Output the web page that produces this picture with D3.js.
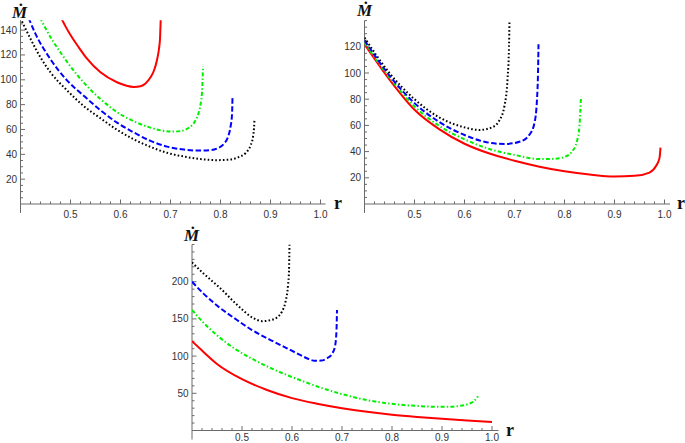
<!DOCTYPE html>
<html><head><meta charset="utf-8">
<script src="https://cdn.jsdelivr.net/npm/d3@7"></script>
<style>
html,body{margin:0;padding:0;background:#fff;}
svg{display:block;}
</style></head>
<body>
<svg id="chart" width="685" height="443"></svg>
<script>
// ---------- data: [r, Mdot] pairs ----------
const xTickLabels = [0.5, 0.6, 0.7, 0.8, 0.9, 1.0];

// panel A (top-left)
const aRed   = [[0.481,150],[0.49,143],[0.5,136],[0.515,127],[0.533,117],[0.56,106],[0.593,98],[0.627,94.2],[0.64,94.8],[0.65,97],[0.66,102],[0.667,107.5],[0.673,116],[0.677,125],[0.679,133],[0.6805,150]];
const aGreen = [[0.439,150],[0.45,141.5],[0.465,131],[0.48,122],[0.493,114.5],[0.51,105.5],[0.527,97.5],[0.545,90],[0.56,84.5],[0.593,74],[0.627,66.5],[0.66,61.5],[0.7,58.3],[0.72,58.7],[0.735,61],[0.748,66],[0.756,73],[0.76,80],[0.763,90],[0.765,111]];
const aBlue  = [[0.416,150],[0.43,137],[0.46,116.5],[0.493,99.5],[0.527,87],[0.56,75.5],[0.593,65.5],[0.627,57.5],[0.66,50.8],[0.693,46.2],[0.727,43.8],[0.76,43],[0.78,43.3],[0.795,45],[0.807,48.5],[0.815,54],[0.82,62],[0.823,72],[0.824,86]];
const aBlack = [[0.403,147],[0.42,133],[0.44,118],[0.46,106],[0.493,91.5],[0.527,78.7],[0.56,69],[0.593,59.8],[0.627,52],[0.66,46],[0.693,41.2],[0.727,38.2],[0.76,36.2],[0.793,35.3],[0.815,35.6],[0.835,37.5],[0.85,41],[0.86,47],[0.865,54],[0.867,61],[0.868,68]];

// panel B (top-right)
const bRed   = [[0.4,122],[0.45,95],[0.5,72],[0.55,57],[0.6,46],[0.65,38.5],[0.7,33],[0.75,28.5],[0.8,25],[0.85,22.5],[0.9,21],[0.94,21.5],[0.97,24],[0.983,29],[0.99,35],[0.992,43]];
const bGreen = [[0.4,123],[0.45,96.5],[0.5,74.5],[0.55,59.5],[0.6,49.4],[0.65,42],[0.7,37.5],[0.75,34.3],[0.78,34.5],[0.8,36],[0.815,40],[0.825,48],[0.83,60],[0.833,82]];
const bBlue  = [[0.4,125],[0.45,98],[0.5,77],[0.55,62.5],[0.6,52.7],[0.64,47.5],[0.68,45.8],[0.71,47.5],[0.73,53],[0.74,62],[0.745,80],[0.747,100],[0.748,122]];
const bBlack = [[0.4,127],[0.45,100],[0.5,80],[0.55,66],[0.6,58.5],[0.63,56.5],[0.655,58.5],[0.67,64],[0.68,75],[0.686,95],[0.689,120],[0.69,140]];

// panel C (bottom)
const cRed   = [[0.4,120],[0.42,107.5],[0.45,89.5],[0.5,69],[0.55,54.5],[0.6,43.5],[0.65,36],[0.7,30],[0.75,25.2],[0.8,21.3],[0.85,18.3],[0.9,15.8],[0.95,13.6],[1.0,11.5]];
const cGreen = [[0.4,162],[0.42,147],[0.45,128],[0.49,108],[0.52,96.5],[0.557,84],[0.59,74.5],[0.623,66],[0.66,57],[0.697,49.5],[0.742,42],[0.78,37.5],[0.808,35.2],[0.85,33],[0.88,32],[0.91,31.8],[0.935,33],[0.952,35.5],[0.964,39.5],[0.972,46]];
const cBlue  = [[0.4,200],[0.423,184],[0.45,168],[0.49,148.5],[0.52,135],[0.557,121.6],[0.59,110.5],[0.615,102],[0.632,96.5],[0.645,93.8],[0.658,94],[0.67,97],[0.68,103],[0.686,113],[0.689,135],[0.69,162]];
const cBlack = [[0.4,226],[0.423,211],[0.457,191],[0.49,169],[0.523,151],[0.54,147],[0.555,148],[0.57,152],[0.58,160],[0.587,173],[0.592,195],[0.594,215],[0.595,250]];

const yMajorA = [20,40,60,80,100,120,140];
const yMajorB = [20,40,60,80,100,120];
const yMajorC = [50,100,150,200];

// ---------- styles ----------
const styles = {
  red:   {color:"#ff0000", dash:null},
  green: {color:"#00f000", dash:"4,2.2,1.4,2.2"},
  blue:  {color:"#0000ff", dash:"5.5,2.5"},
  black: {color:"#000000", dash:"1.6,2.2"}
};

const svg = d3.select("#chart");

function panel(cfg){
  const g = svg.append("g");
  const clipId = "clip" + cfg.id;
  const x = d3.scaleLinear().domain([0.4, cfg.xMax]).range([cfg.x0, cfg.x0 + (cfg.xMax - 0.4) * 500]);
  const y = d3.scaleLinear().domain([0, cfg.yMax]).range([cfg.y0, cfg.y0 - cfg.yMax * cfg.yScale]);

  g.append("clipPath").attr("id", clipId).append("rect")
    .attr("x", x.range()[0]).attr("y", y.range()[1])
    .attr("width", x.range()[1] - x.range()[0]).attr("height", y.range()[0] - y.range()[1]);

  const axisColor = "#6b6b6b";
  g.append("line").attr("x1", x.range()[0]).attr("x2", x.range()[1])
    .attr("y1", cfg.y0).attr("y2", cfg.y0).attr("stroke", axisColor).attr("stroke-width", 1);
  g.append("line").attr("x1", cfg.x0).attr("x2", cfg.x0)
    .attr("y1", cfg.y0 + 9).attr("y2", y.range()[1]).attr("stroke", axisColor).attr("stroke-width", 1);

  const xMinor = d3.range(0.42, cfg.xMax, 0.02).filter(v => Math.abs(v*10 - Math.round(v*10)) > 1e-6);
  g.selectAll(".xmin").data(xMinor).enter().append("line")
    .attr("x1", d => x(d)).attr("x2", d => x(d))
    .attr("y1", cfg.y0).attr("y2", cfg.y0 - 2.5).attr("stroke", axisColor);
  g.selectAll(".xmaj").data(xTickLabels).enter().append("line")
    .attr("x1", d => x(d)).attr("x2", d => x(d))
    .attr("y1", cfg.y0).attr("y2", cfg.y0 - 4.5).attr("stroke", axisColor);
  g.selectAll(".xlab").data(xTickLabels).enter().append("text")
    .attr("x", d => x(d)).attr("y", cfg.y0 + cfg.xLabOff)
    .attr("text-anchor", "middle").attr("font-family", "Liberation Sans, Arial, sans-serif")
    .attr("font-size", 10).attr("fill", "#333")
    .text(d => d3.format(".1f")(d));

  const yMinor = d3.range(cfg.yMinorStep, cfg.yMax + 0.001, cfg.yMinorStep).filter(v => !cfg.yMajor.includes(v));
  g.selectAll(".ymin").data(yMinor).enter().append("line")
    .attr("x1", cfg.x0).attr("x2", cfg.x0 + 2.5)
    .attr("y1", d => y(d)).attr("y2", d => y(d)).attr("stroke", axisColor);
  g.selectAll(".ymaj").data(cfg.yMajor).enter().append("line")
    .attr("x1", cfg.x0).attr("x2", cfg.x0 + 4.5)
    .attr("y1", d => y(d)).attr("y2", d => y(d)).attr("stroke", axisColor);
  g.selectAll(".ylab").data(cfg.yMajor).enter().append("text")
    .attr("x", cfg.x0 - 3.5).attr("y", d => y(d)).attr("dy", "0.35em")
    .attr("text-anchor", "end").attr("font-family", "Liberation Sans, Arial, sans-serif")
    .attr("font-size", 10).attr("fill", "#333")
    .text(d => d);

  const line = d3.line().x(d => x(d[0])).y(d => y(d[1])).curve(d3.curveMonotoneX);
  const cg = g.append("g").attr("clip-path", `url(#${clipId})`);
  cfg.series.forEach(s => {
    const st = styles[s.key];
    cg.append("path").datum(s.data)
      .attr("d", line).attr("fill", "none")
      .attr("stroke", st.color).attr("stroke-width", 2)
      .attr("stroke-dasharray", st.dash);
  });

  g.append("text").attr("x", cfg.mx).attr("y", cfg.my)
    .attr("font-family", "Liberation Serif, Times New Roman, serif")
    .attr("font-weight", "bold").attr("font-style", "italic").attr("font-size", 17)
    .attr("fill", "#111").text("\u1E40");
  g.append("text").attr("x", cfg.rx).attr("y", cfg.y0 + 5)
    .attr("font-family", "Liberation Serif, Times New Roman, serif")
    .attr("font-weight", "bold").attr("font-size", 18)
    .attr("fill", "#111").text("r");
}

panel({id:"A", x0:20.5, y0:204, xMax:1.01, yMax:148, yScale:1.242, yMajor:yMajorA, yMinorStep:5, xLabOff:14.3,
  series:[{key:"black",data:aBlack},{key:"blue",data:aBlue},{key:"green",data:aGreen},{key:"red",data:aRed}],
  mx:12, my:18, rx:334});
panel({id:"B", x0:364.5, y0:204, xMax:1.011, yMax:140, yScale:1.31, yMajor:yMajorB, yMinorStep:5, xLabOff:14.3,
  series:[{key:"red",data:bRed},{key:"green",data:bGreen},{key:"blue",data:bBlue},{key:"black",data:bBlack}],
  mx:357, my:16, rx:677});
panel({id:"C", x0:192, y0:430.5, xMax:1.013, yMax:250, yScale:0.744, yMajor:yMajorC, yMinorStep:10, xLabOff:10,
  series:[{key:"red",data:cRed},{key:"green",data:cGreen},{key:"blue",data:cBlue},{key:"black",data:cBlack}],
  mx:184, my:241, rx:506});
</script>
</body></html>
